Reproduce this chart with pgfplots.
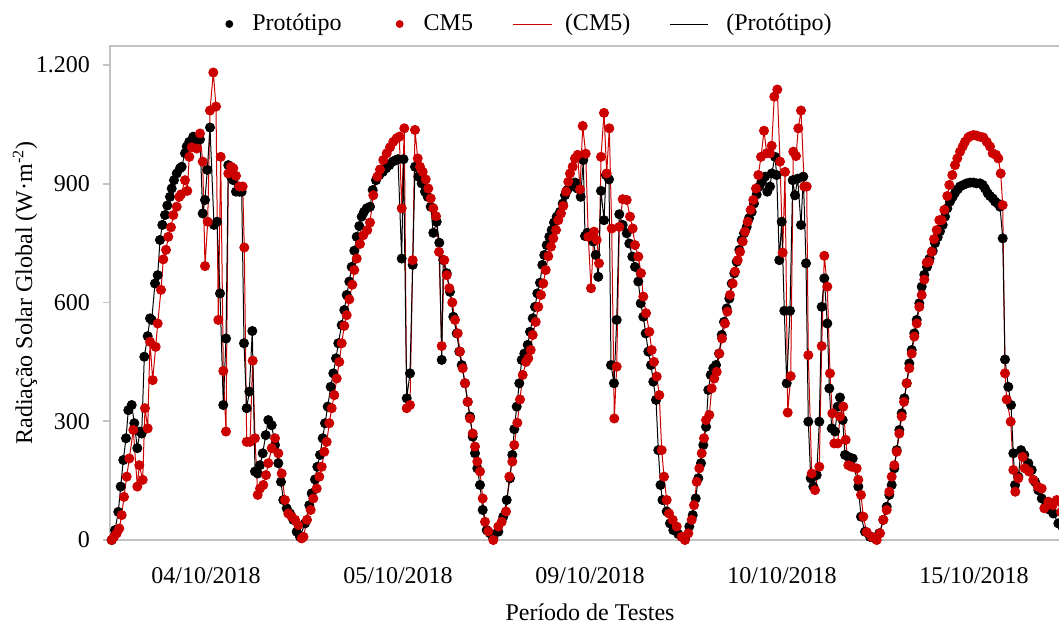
\documentclass[border=0pt]{standalone}
\usepackage{fontspec}
\setmainfont{Liberation Serif}
\usepackage{pgfplots}
\usepackage{pgfplotstable}
\pgfplotsset{compat=1.18}
\definecolor{cmred}{RGB}{205,0,0}
\definecolor{framegray}{RGB}{195,195,195}

\pgfplotstableread{
x y
1.7 0
5 25
8.3 71
10.7 135
13.3 202
16 257
18.3 328
21.7 341
24.3 295
27.3 232
30 274
31.7 269
34.3 463
37.7 515
40 560
41.7 556
45 648
47.7 669
50 758
52.3 796
55 821
57.3 845
60 867
61.7 888
64 909
66.7 926
70 939
71.7 943
75 977
76.7 994
79.3 1006
83.3 1019
86.7 1010
90 1012
92.7 825
95 859
97.3 935
100 1042
104 796
107 804
110 623
113.3 341
116 509
118.3 947
121 918
123.3 909
126 880
129.3 880
131.7 880
134 497
136.7 333
139.3 375
142.3 528
145 173
147.7 168
150 189
152.7 219
155.7 265
158.3 303
161.7 290
165 240
168.3 194
171 147
173.3 101
176.7 80
180 67
183.3 51
186.7 21
190 8
195 42
199.3 88
201.7 118
205 153
207.3 185
210 215
212.7 257
215 295
217.7 337
220.7 387
223.3 421
226 459
228.3 497
231.7 543
234.3 581
236.7 619
239.3 653
241.7 690
244.3 731
246.7 766
249.3 793
251.7 817
254 829
256.7 838
260 842
262.7 884
266 909
269.3 922
272.7 930
276 939
279.3 947
282.7 956
286 960
288 962
291.7 711
293.5 962
296.7 358
300 421
302.7 695
305 943
308.3 918
311.7 901
315 880
317.7 867
320.7 842
323.3 776
326.7 804
329.3 751
331.7 455
333.3 707
336.7 674
340 627
343.3 564
346.7 522
349.3 476
351.7 442
355 396
357.7 349
360 312
362.7 261
365 219
367.3 181
370 139
372.7 76
376.7 25
380 17
383.3 4
388.3 21
393.3 59
396.7 101
400 156
402.3 215
404.3 280
406.7 337
409.3 396
411.7 455
414.3 471
417.7 493
420 526
422.7 560
425 589
427.3 623
430 650
432.3 695
434.3 720
436.7 745
439.3 766
441.7 783
444 802
446.7 817
450 829
452.7 850
455 871
457.3 884
460 893
462.7 894
465 903
467.3 888
470.7 867
473.3 960
475 768
477.3 776
480 770
483.3 754
485.7 720
488.3 665
491 882
494 808
496 922
499 911
501 442
504 396
506.7 556
509.3 823
512.7 796
516.7 775
519.3 749
522.3 716
525 690
528.3 653
530.7 598
533.3 564
535.7 522
538.3 476
541 442
543.3 400
546 354
548.3 227
550.5 139
552.5 101
556.7 72
560 42
563.3 25
568.3 15
571.7 8
575 4
579.3 34
582.7 63
585.7 105
588.3 156
591 194
593.3 240
596 286
598.3 379
600.7 417
603.3 434
606 442
609 471
611.7 518
614 551
616.7 585
619.3 610
621.7 648
624.3 674
626.7 703
629.3 733
631.7 758
634 775
636.7 791
639 813
641.7 829
644 850
646.7 873
649.3 893
651.7 905
655 918
657.3 880
660 893
661.7 926
665 968
666.7 922
669.3 707
671.7 804
674.3 579
676.7 396
680 579
682.7 909
685 871
687.7 913
691 796
693.3 918
696 699
698.3 299
700.7 156
703.3 135
706.7 164
709.3 299
711.7 589
714.3 661
717.3 547
719.3 383
721.7 282
725 274
727.7 337
730 360
732.7 303
735 215
738.3 210
742.7 206
748.3 135
751 59
755 21
760 8
765 4
769.3 17
773.3 51
776.7 84
779.3 114
781.7 139
784.3 181
786.7 227
789.3 278
791.7 320
794.3 358
796.7 396
799.3 446
801.7 480
804.3 522
806.7 556
809.3 598
811.7 640
814.3 670
817 690
819.5 711
822.7 730
825 750
827.7 765
830 780
832.7 796
835 817
837.3 838
840 855
842.7 867
845 877
847.7 886
850 893
853.3 897
856.7 901
860 903
863.3 903
866.7 901
870 901
872.7 897
875 888
877.7 876
880 869
882.7 863
885 855
887.7 850
890 842
892.7 762
895 456
898.3 387
901 341
903.3 219
905 139
908.3 160
911 227
914.3 215
918.3 194
921.7 177
925 147
928.3 126
931.7 105
936 88
940 76
943.3 67
948.3 42
953 30
958 20
}\proto

\pgfplotstableread{
x y
1.7 0
4 8
6.7 17
9.3 29
11.7 63
14 109
16.7 160
19.3 206
23.3 278
27.3 135
29.3 189
32.7 152
35 333
37.7 282
40 501
42.7 404
45.7 488
47.7 547
51 632
53.3 709
56 733
58.3 766
61 790
63.3 821
66.7 842
69.3 867
71 873
75 909
77.3 882
79.3 968
81.7 992
86.7 989
90 1027
92.7 956
95 692
97.7 804
100 1085
103.3 1181
106 1095
108.3 556
110.7 968
113.3 427
116 274
118.3 926
121 943
123.3 939
126 920
129.3 893
132.7 893
134.3 739
136.7 248
140 248
142.7 453
145 257
147.7 114
150 130
153.3 139
156 164
158.3 194
161.7 232
165 257
168.3 219
171.7 168
175 101
178.3 67
181.7 59
185 51
188.3 38
191.7 4
193.5 8
197 51
200.7 76
203.3 105
206.7 130
209.3 160
211.7 185
214.3 223
216.7 248
219.3 295
221.7 333
224.3 366
226.7 408
229.3 450
231.7 497
234.3 541
236.7 568
239.3 608
242.3 645
244.3 682
246.7 711
250 748
253.3 770
257.3 783
260 802
263.3 871
267.3 918
270 936
273.3 960
276.7 977
280 992
283.3 1006
286.7 1015
289.3 1019
291.7 838
294.3 1040
296.7 333
300 341
302.7 707
305 1036
307.7 964
310 943
312.7 930
315.7 911
318.3 888
320.7 863
323.3 838
326 818
329 728
331.7 490
334.3 707
336.7 669
339.3 636
342.3 600
345 556
347.7 522
350 476
352.7 434
355 396
357.7 349
360 307
362.7 269
365 236
367.3 198
370 173
372.7 105
375 46
378.3 22
383.3 0
388.3 34
391.7 46
396 72
399.3 160
402.3 198
404.3 240
407.3 296
410 355
412.7 417
416 450
418.3 459
420.7 480
422.7 518
425.7 551
428.3 589
431 619
433.3 648
435.7 682
438.3 717
441 741
443.3 762
446 783
448.3 808
451 825
453.3 844
456 880
458.3 905
460 926
462.7 943
465 964
467.7 973
470 886
472.7 1046
475.7 976
478.3 766
481 636
484 779
486.7 758
489 699
491 968
494 1079
496.7 926
499.3 1040
501.7 787
504.3 307
506.7 438
509.3 791
512.7 861
516.7 859
520 817
522.7 787
525 745
528.3 716
531 674
533.3 615
536 573
539.3 526
541.7 480
544 450
546.7 413
549.3 366
551.7 227
554 160
556.7 101
559 67
562.7 51
566.7 34
571.7 8
575 0
578.3 17
581.7 51
584 88
586.7 147
589.3 181
591.7 219
594 257
596 303
599.3 316
601.7 383
604.3 408
606.7 425
609.3 471
612 509
615 547
617.3 577
620 619
622.7 648
625 678
627.7 707
630 728
632.7 754
635 779
637.7 804
640.7 834
643.3 859
646 888
648.3 922
651 968
654 1034
656.7 977
660 977
661.7 996
664.3 1120
667.3 1138
670 956
672.7 726
675 930
677.7 322
680.7 414
683.3 981
686 970
688.3 1040
691 1085
694.3 893
696.7 893
698.3 467
701.7 168
705 126
709.3 185
711.7 490
714.3 718
717.3 640
720 421
722.3 320
724.3 244
727.7 244
730 312
733.3 337
735.7 253
738.3 189
741.7 185
746.7 181
748.3 152
751 114
753.3 59
756.7 20
761.7 8
766.7 0
770 17
773.3 51
776.7 76
779.3 122
781.7 160
784.3 189
786.7 223
789.3 269
791.7 312
794 349
796.7 396
799.3 434
801.7 471
804.3 514
806.7 547
809.3 589
811.7 619
814.3 658
816.7 701
819 703
821.7 728
824 760
826.7 783
829.3 808
831.7 808
834.3 834
837.3 869
839.3 897
842.3 922
845 947
847.3 964
850 981
852.7 994
855 1006
858.3 1017
860 1020
863.3 1023
866 1022
868.3 1020
871 1018
873.3 1017
876.7 1006
880 994
882.7 977
886 973
888.3 964
890.7 926
892.7 846
895 421
896.7 355
900.7 299
903.3 177
905.3 122
908.3 156
912.7 210
915 181
919 173
923.3 152
927.7 135
931.7 130
934.3 80
938.3 97
942.7 88
946.7 101
951 70
956 55
960 40
}\cmfive

\begin{document}
\begin{tikzpicture}
\begin{axis}[
  scale only axis,
  width=480pt, height=247pt,
  at={(0pt,0pt)}, anchor=south west,
  xmin=0, xmax=960, ymin=0, ymax=1248,
  clip=false,
  axis line style={draw=framegray, line width=1pt},
  xtick={96,288,480,672,864},
  xticklabels={04/10/2018,05/10/2018,09/10/2018,10/10/2018,15/10/2018},
  xtick style={draw=none},
  ytick={0,300,600,900,1200},
  yticklabels={0,300,600,900,1.200},
  ytick style={draw=framegray, line width=0.8pt},
  tick align=outside,
  major tick length=3.5pt,
  tick label style={font=\fontsize{12}{14}\selectfont},
  xticklabel style={yshift=-6.5pt},
  yticklabel style={xshift=-3pt},
  xlabel={Período de Testes},
  ylabel={Radiação Solar Global (W·m\textsuperscript{-2})},
  label style={font=\fontsize{12}{14}\selectfont},
  xlabel style={at={(axis description cs:0.5,-0.162)}, anchor=base},
  ylabel style={at={(axis description cs:-0.0885,0.5)}, anchor=center},
  legend columns=4,
  legend style={at={(axis description cs:0.4328,1.0445)}, anchor=center,
    draw=none, fill=none, font=\fontsize{12}{14}\selectfont,
    nodes={inner sep=0pt}, column sep=0pt},
]
\addplot[only marks, mark=*, mark size=2.3pt, color=black,
  legend image code/.code={\path[draw=none,fill=none] (0pt,0pt) (16.5pt,0pt); \fill[black] (5pt,0pt) circle (1.75pt);}]
  table {\proto};
\addlegendentry{Protótipo}
\addplot[only marks, mark=*, mark size=2.3pt, color=cmred,
  legend image code/.code={\path[draw=none,fill=none] (0pt,0pt) (41pt,0pt); \fill[cmred] (29pt,0pt) circle (1.75pt);}]
  table {\cmfive};
\addlegendentry{CM5}
\addplot[cmred, line width=0.5pt, mark=none,
  legend image code/.code={\path[draw=none,fill=none] (0pt,0pt) (46pt,0pt); \draw[cmred, line width=0.5pt] (20pt,0pt) -- (39.5pt,0pt);}]
  table {\cmfive};
\addlegendentry{(CM5)}
\addplot[black, line width=0.5pt, mark=none,
  legend image code/.code={\path[draw=none,fill=none] (0pt,0pt) (48pt,0pt); \draw[black, line width=0.5pt] (20pt,0pt) -- (39pt,0pt);}]
  table {\proto};
\addlegendentry{(Protótipo)}
\end{axis}
\pgfresetboundingbox
\useasboundingbox (-55pt,-44pt) rectangle (474.5pt,270pt);
\end{tikzpicture}
\end{document}
